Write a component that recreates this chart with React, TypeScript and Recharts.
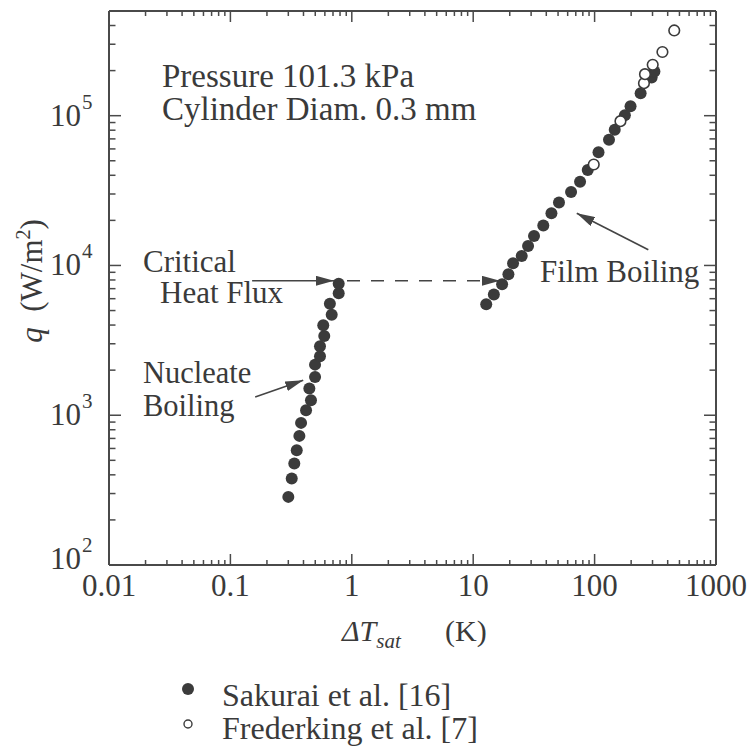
import React from 'react';
import { ScatterChart, Scatter, XAxis, YAxis, ReferenceLine, Legend } from 'recharts';

const FONT = '"Liberation Serif", "Times New Roman", serif';
const INK = '#3a3a3a';
const AXIS = '#4a4a4a';

// ---- axis ticks ----
const xMajorTicks = [0.01, 0.1, 1, 10, 100, 1000];
const xTickLabels = ['0.01', '0.1', '1', '10', '100', '1000'];
const yMajorTicks = [100, 1000, 10000, 100000];
const yTickExponents = ['2', '3', '4', '5'];
const minorMultipliers = [2, 3, 4, 5, 6, 7, 8, 9];
const yTopMinor = [200000, 300000, 400000];

// ---- data: Sakurai et al. [16] (filled) ----
const sakuraiDT = [
  0.30, 0.32, 0.336, 0.352, 0.37, 0.382, 0.42, 0.461, 0.447, 0.498, 0.498, 0.547, 0.547, 0.593, 0.582,
  0.683, 0.66, 0.78, 0.78,
  12.8, 14.8, 17.3, 19.5, 21.3, 25.1, 28.3, 31.7, 37.8, 44.1, 50.9, 64, 75.9, 87.8, 107.7, 131.4, 146.5,
  177.5, 197.7, 239.4, 295, 311,
];
const sakuraiQ = [
  285, 378, 476, 584, 728, 889, 1080, 1259, 1507, 1800, 2177, 2473, 2884, 3380, 3981,
  4690, 5560, 6530, 7550,
  5500, 6390, 7500, 8730, 10350, 11570, 13490, 15730, 18480, 22280, 26300, 30900, 36200, 43400, 57100,
  69200, 80700, 100700, 115800, 141000, 179900, 197400,
];

// ---- data: Frederking et al. [7] (open) ----
const frederkingDT = [98.4, 163.3, 255, 260, 301, 362, 453];
const frederkingQ = [47200, 91900, 164800, 189300, 218800, 266300, 370700];

// ---- annotations (data space) ----
const chfQ = 7900;
const chfArrowDT = [0.151, 0.713];
const transitionDT = [0.913, 16.6];
const nucleateArrowDT = [0.16, 0.398];
const nucleateArrowQ = [1324, 1711];
const filmArrowDT = [277, 71.3];
const filmArrowQ = [12730, 22300];

const seriesNames = ['Sakurai et al. [16]', 'Frederking et al. [7]'];

const sakuraiData = sakuraiDT.map((dt, i) => ({ dt, q: sakuraiQ[i] }));
const frederkingData = frederkingDT.map((dt, i) => ({ dt, q: frederkingQ[i] }));

const xAllTicks: number[] = [];
xMajorTicks.forEach((m, i) => {
  xAllTicks.push(m);
  if (i < xMajorTicks.length - 1) minorMultipliers.forEach((k) => xAllTicks.push(+(m * k).toPrecision(3)));
});
const yAllTicks: number[] = [];
yMajorTicks.forEach((m, i) => {
  yAllTicks.push(m);
  if (i < yMajorTicks.length - 1) minorMultipliers.forEach((k) => yAllTicks.push(m * k));
});
yTopMinor.forEach((v) => yAllTicks.push(v));

const isMajor = (v: number) => Math.abs(Math.log10(v) - Math.round(Math.log10(v))) < 1e-6;

const BottomTick = (p: any) => {
  const v = p.payload.value;
  const major = isMajor(v);
  const idx = xMajorTicks.findIndex((t) => Math.abs(t - v) / t < 1e-6);
  return (
    <g>
      <line x1={p.x} x2={p.x} y1={p.y} y2={p.y - (major ? 11 : 5)} stroke={AXIS} strokeWidth={1.5} />
      {major && idx >= 0 && (
        <text x={p.x} y={p.y + 31} textAnchor="middle" fontFamily={FONT} fontSize={31} fill={INK}>
          {xTickLabels[idx]}
        </text>
      )}
    </g>
  );
};

const TopTick = (p: any) => {
  const major = isMajor(p.payload.value);
  return <line x1={p.x} x2={p.x} y1={p.y} y2={p.y + (major ? 11 : 5)} stroke={AXIS} strokeWidth={1.5} />;
};

const LeftTick = (p: any) => {
  const v = p.payload.value;
  const major = isMajor(v);
  const idx = yMajorTicks.findIndex((t) => Math.abs(t - v) / t < 1e-6);
  const lift = idx === 0 ? -6 : 0;
  return (
    <g>
      <line x1={p.x} x2={p.x + (major ? 12 : 6.5)} y1={p.y} y2={p.y} stroke={AXIS} strokeWidth={1.5} />
      {major && idx >= 0 && (
        <g>
          <text x={p.x - 28} y={p.y + 10 + lift} textAnchor="end" fontFamily={FONT} fontSize={31} fill={INK}>
            10
          </text>
          <text x={p.x - 27} y={p.y - 7 + lift} textAnchor="start" fontFamily={FONT} fontSize={21} fill={INK}>
            {yTickExponents[idx]}
          </text>
        </g>
      )}
    </g>
  );
};

const RightTick = (p: any) => {
  const major = isMajor(p.payload.value);
  return <line x1={p.x} x2={p.x - (major ? 12 : 6.5)} y1={p.y} y2={p.y} stroke={AXIS} strokeWidth={1.5} />;
};

const FilledDot = (p: any) => <circle cx={p.cx} cy={p.cy} r={6} fill="#3b3b3b" />;
const OpenDot = (p: any) => <circle cx={p.cx} cy={p.cy} r={5.3} fill="#ffffff" stroke="#3b3b3b" strokeWidth={1.6} />;

const renderLegend = () => (
  <svg width={340} height={80}>
    <circle cx={18} cy={21} r={6} fill="#3b3b3b" />
    <text x={52} y={38} fontFamily={FONT} fontSize={32} fill={INK}>
      {seriesNames[0]}
    </text>
    <circle cx={18} cy={56} r={4} fill="#fff" stroke="#3b3b3b" strokeWidth={1.4} />
    <text x={52} y={71} fontFamily={FONT} fontSize={32} fill={INK}>
      {seriesNames[1]}
    </text>
  </svg>
);

const textStyle = { fontFamily: FONT, fill: INK } as const;

export default function App() {
  return (
    <div style={{ position: 'absolute', left: 0, top: 0, width: 749, height: 749, background: '#fff' }}>
      <ScatterChart width={749} height={749} margin={{ top: 10, left: 108, right: 32, bottom: 183 }}>
        <defs>
          <marker id="arrowHead" markerUnits="userSpaceOnUse" markerWidth={18} markerHeight={10} refX={18} refY={5} orient="auto">
            <path d="M0,0 L18,5 L0,10 Z" fill="#444" />
          </marker>
        </defs>
        <XAxis
          xAxisId={0}
          dataKey="dt"
          type="number"
          scale="log"
          domain={[0.01, 1000]}
          allowDataOverflow
          ticks={xAllTicks}
          interval={0}
          height={1}
          tickSize={0}
          tickMargin={0}
          tickLine={false}
          axisLine={{ stroke: AXIS, strokeWidth: 2 }}
          tick={(p: any) => <BottomTick {...p} />}
        />
        <XAxis
          xAxisId="top"
          orientation="top"
          dataKey="dt"
          type="number"
          scale="log"
          domain={[0.01, 1000]}
          allowDataOverflow
          ticks={xAllTicks}
          interval={0}
          height={1}
          tickSize={0}
          tickMargin={0}
          tickLine={false}
          axisLine={{ stroke: AXIS, strokeWidth: 2 }}
          tick={(p: any) => <TopTick {...p} />}
        />
        <YAxis
          yAxisId={0}
          dataKey="q"
          type="number"
          scale="log"
          domain={[100, 500000]}
          allowDataOverflow
          ticks={yAllTicks}
          interval={0}
          width={1}
          tickSize={0}
          tickMargin={0}
          tickLine={false}
          axisLine={{ stroke: AXIS, strokeWidth: 2 }}
          tick={(p: any) => <LeftTick {...p} />}
        />
        <YAxis
          yAxisId="right"
          orientation="right"
          dataKey="q"
          type="number"
          scale="log"
          domain={[100, 500000]}
          allowDataOverflow
          ticks={yAllTicks}
          interval={0}
          width={1}
          tickSize={0}
          tickMargin={0}
          tickLine={false}
          axisLine={{ stroke: AXIS, strokeWidth: 2 }}
          tick={(p: any) => <RightTick {...p} />}
        />

        <ReferenceLine
          segment={[{ x: chfArrowDT[0], y: chfQ }, { x: chfArrowDT[1], y: chfQ }]}
          stroke="#444"
          strokeWidth={1.6}
          markerEnd="url(#arrowHead)"
          ifOverflow="visible"
        />
        <ReferenceLine
          segment={[{ x: transitionDT[0], y: chfQ }, { x: transitionDT[1], y: chfQ }]}
          stroke="#444"
          strokeWidth={1.6}
          strokeDasharray="13 11"
          markerEnd="url(#arrowHead)"
          ifOverflow="visible"
        />
        <ReferenceLine
          segment={[{ x: nucleateArrowDT[0], y: nucleateArrowQ[0] }, { x: nucleateArrowDT[1], y: nucleateArrowQ[1] }]}
          stroke="#444"
          strokeWidth={1.6}
          markerEnd="url(#arrowHead)"
          ifOverflow="visible"
        />
        <ReferenceLine
          segment={[{ x: filmArrowDT[0], y: filmArrowQ[0] }, { x: filmArrowDT[1], y: filmArrowQ[1] }]}
          stroke="#444"
          strokeWidth={1.6}
          markerEnd="url(#arrowHead)"
          ifOverflow="visible"
        />

        <Scatter name={seriesNames[0]} data={sakuraiData} shape={FilledDot} isAnimationActive={false} />
        <Scatter name={seriesNames[1]} data={frederkingData} shape={OpenDot} isAnimationActive={false} />

        <Legend
          layout="horizontal"
          verticalAlign="middle"
          align="center"
          wrapperStyle={{ top: 668, left: 170, width: 340, height: 80 }}
          content={renderLegend}
        />

        <text x={162} y={87} fontSize={33} {...textStyle}>Pressure 101.3 kPa</text>
        <text x={162} y={120} fontSize={33} {...textStyle}>Cylinder Diam. 0.3 mm</text>
        <text x={143} y={272} fontSize={31} {...textStyle}>Critical</text>
        <text x={160} y={303} fontSize={31} {...textStyle}>Heat Flux</text>
        <text x={143} y={383} fontSize={30.5} {...textStyle}>Nucleate</text>
        <text x={143} y={416} fontSize={30.5} {...textStyle}>Boiling</text>
        <text x={540} y={282} fontSize={31} {...textStyle}>Film Boiling</text>

        <text x={342} y={641} fontSize={30} fontStyle="italic" {...textStyle}>
          ΔT
          <tspan fontSize={21} dy={7}>sat</tspan>
        </text>
        <text x={445} y={641} fontSize={30} {...textStyle}>(K)</text>

        <text transform="rotate(-90)" x={-281} y={42} textAnchor="middle" fontSize={31} {...textStyle}>
          <tspan fontStyle="italic">q</tspan>
          <tspan>{'\u00a0\u00a0(W/m'}</tspan>
          <tspan fontSize={20} dy={-12}>2</tspan>
          <tspan dy={12}>)</tspan>
        </text>
      </ScatterChart>
    </div>
  );
}
